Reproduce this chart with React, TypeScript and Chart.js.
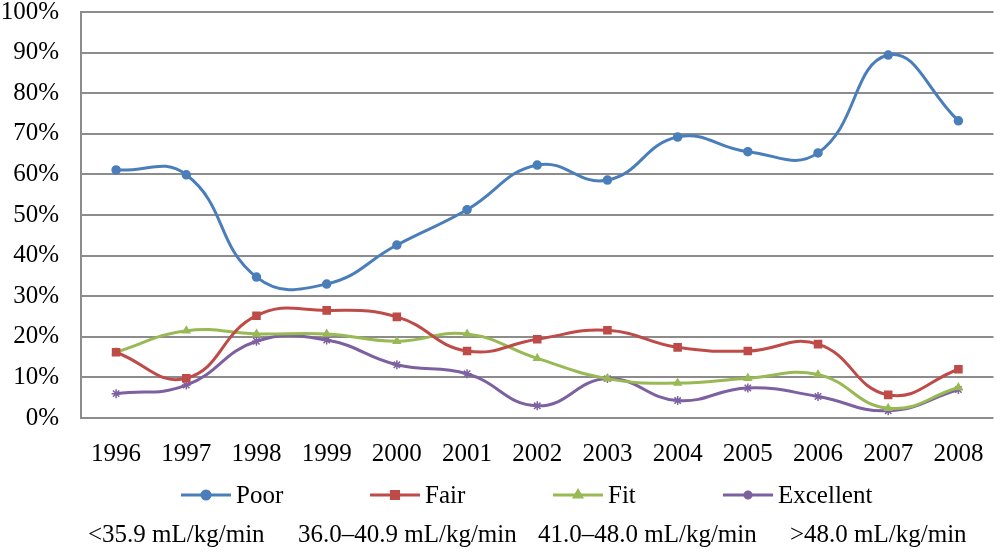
import React, { useEffect, useRef } from "react";
import { Chart, registerables } from "chart.js";
import { drawPoint } from "chart.js/helpers";

Chart.register(...registerables);

const years = ["1996", "1997", "1998", "1999", "2000", "2001", "2002", "2003", "2004", "2005", "2006", "2007", "2008"];
const poor = [61.1, 59.9, 34.7, 33.0, 42.6, 51.3, 62.3, 58.6, 69.2, 65.6, 65.3, 89.4, 73.2];
const fair = [16.2, 9.8, 25.2, 26.5, 24.9, 16.5, 19.4, 21.6, 17.4, 16.5, 18.2, 5.7, 12.0];
const fit = [16.2, 21.5, 20.7, 20.7, 18.9, 20.7, 14.7, 9.7, 8.6, 9.8, 10.7, 2.4, 7.5];
const excellent = [6.0, 8.1, 18.9, 19.2, 13.1, 10.9, 3.0, 9.7, 4.3, 7.4, 5.3, 1.8, 7.0];
const seriesNames = ["Poor", "Fair", "Fit", "Excellent"];
const seriesRanges = ["<35.9 mL/kg/min", "36.0\u201340.9 mL/kg/min", "41.0\u201348.0 mL/kg/min", ">48.0 mL/kg/min"];
const yTicks = [0, 10, 20, 30, 40, 50, 60, 70, 80, 90, 100];

const colors = ["#4A7EBB", "#BE4B48", "#98B954", "#7D60A0"];
const pointStyles = ["circle", "rect", "triangle", "star"];
const pointRadii = [4, 5, 4, 4.5];
const FONT = "'Liberation Serif', 'Times New Roman', serif";
const FONT_SIZE = 25;

const legendLineX = [181, 370, 553, 723];
const rangeTextX = [88, 298, 538, 790];

const customLegend = {
  id: "customLegend",
  afterDraw(chart: any) {
    const ctx = chart.ctx;
    ctx.save();
    const yRow = 495;
    const yRow2 = 535;
    ctx.font = `${FONT_SIZE}px ${FONT}`;
    ctx.textBaseline = "middle";
    ctx.textAlign = "left";
    seriesNames.forEach((name, i) => {
      const x0 = legendLineX[i];
      ctx.strokeStyle = colors[i];
      ctx.lineWidth = 3;
      ctx.beginPath();
      ctx.moveTo(x0, yRow);
      ctx.lineTo(x0 + 50, yRow);
      ctx.stroke();
      ctx.fillStyle = colors[i];
      drawPoint(ctx, { pointStyle: pointStyles[i], radius: pointRadii[i], rotation: 0, borderWidth: 1.5 } as any, x0 + 25, yRow);
      ctx.fillStyle = "#000";
      ctx.fillText(name, x0 + 55, yRow + 1);
    });
    ctx.fillStyle = "#000";
    seriesRanges.forEach((t, i) => {
      ctx.fillText(t, rangeTextX[i], yRow2);
    });
    ctx.restore();
  },
};

export default function App() {
  const ref = useRef<HTMLCanvasElement>(null);
  useEffect(() => {
    if (!ref.current) return;
    const data = [poor, fair, fit, excellent];
    const chart = new Chart(ref.current, {
      type: "line",
      data: {
        labels: years,
        datasets: seriesNames.map((name, i) => ({
          label: name,
          data: data[i],
          borderColor: colors[i],
          backgroundColor: colors[i],
          borderWidth: 3,
          pointStyle: pointStyles[i] as any,
          pointRadius: pointRadii[i],
          pointBorderWidth: 1.5,
          pointBorderColor: colors[i],
          pointBackgroundColor: colors[i],
          tension: 0.45,
          fill: false,
        })),
      },
      options: {
        animation: false,
        responsive: true,
        maintainAspectRatio: false,
        layout: { padding: { top: 12, right: 4, left: 0, bottom: 0 } },
        plugins: {
          legend: { display: false },
          tooltip: { enabled: false },
        },
        scales: {
          x: {
            offset: true,
            grid: { display: false, drawTicks: false },
            border: { display: false },
            ticks: {
              color: "#000",
              font: { family: FONT, size: FONT_SIZE },
              padding: 21,
              maxRotation: 0,
              autoSkip: false,
            },
            afterFit: (s: any) => {
              s.height = 135;
              s.paddingLeft = 0;
              s.paddingRight = 0;
            },
          },
          y: {
            min: 0,
            max: 100,
            afterBuildTicks: (s: any) => {
              s.ticks = yTicks.map((v) => ({ value: v }));
            },
            grid: { color: "#8c8c8c", lineWidth: 2, drawTicks: false },
            border: { display: true, color: "#8c8c8c", width: 2 },
            ticks: {
              color: "#000",
              font: { family: FONT, size: FONT_SIZE },
              padding: 22,
              callback: (v: any) => `${v}%`,
            },
            afterFit: (s: any) => {
              s.width = 81;
              s.paddingTop = 0;
              s.paddingBottom = 0;
            },
          },
        },
      },
      plugins: [customLegend],
    });
    return () => chart.destroy();
  }, []);
  return (
    <div style={{ position: "absolute", left: 0, top: 0, width: 1000, height: 553, background: "#fff" }}>
      <canvas ref={ref} />
    </div>
  );
}
